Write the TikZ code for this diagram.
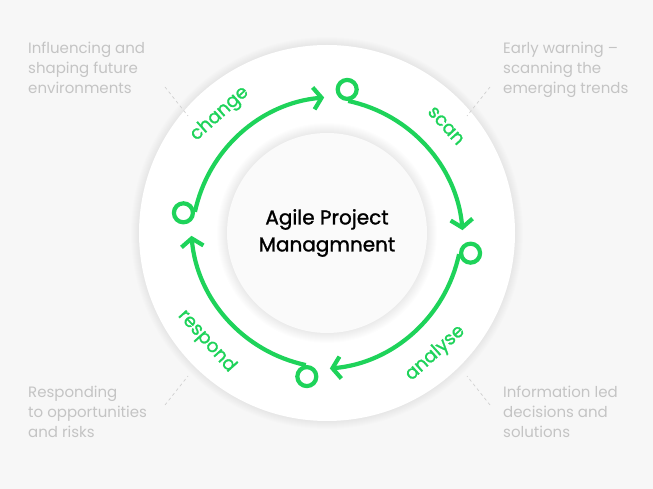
\documentclass[tikz,border=0pt]{standalone}
\usepackage{fontspec}
\setmainfont{Poppins}
\newfontfamily\med{Poppins}[FakeBold=1.3]
\usetikzlibrary{arrows.meta,calc}
\definecolor{grn}{HTML}{1ED35A}
\definecolor{bg}{HTML}{F7F7F7}
\definecolor{side}{HTML}{C4C4C4}
\tikzset{
  x=1pt,y=1pt,
  arr/.style={draw=grn,line width=4.2pt,-{Straight Barb[length=8pt,width=22pt,line width=4.2pt]}},
  dot/.style={circle,draw=grn,line width=4.2pt,fill=white,minimum size=19pt,inner sep=0pt},
  lab/.style={text=grn,font=\med\fontsize{18.5}{18.5}\selectfont},
  sidetxt/.style={text=side,font=\fontsize{15}{20}\selectfont,align=left,anchor=north west,inner sep=0pt},
  tick/.style={draw=side!80,dashed,dash pattern=on 3pt off 3pt,line width=0.7pt}
}
\begin{document}
\begin{tikzpicture}
\fill[bg] (0,0) rectangle (653,489);
\useasboundingbox (0,0) rectangle (653,489);
\coordinate (c) at (327,256);
% outer ring with soft shadow
\foreach \i in {1,...,8}{\fill[black,opacity=0.006] (c) circle[radius=188+\i];}
\fill[white] (c) circle[radius=188];
% inner shaded disc
\foreach \i in {1,...,10}{\fill[black,opacity=0.008] (c) circle[radius=111-\i];}
\fill[black!2] (c) circle[radius=100];
% nodes
\node[dot] (n1) at ($(c)+(82:145)$) {};
\node[dot] (n2) at ($(c)+(-8:145)$) {};
\node[dot] (n3) at ($(c)+(262:145)$) {};
\node[dot] (n4) at ($(c)+(172:145)$) {};
% arcs
\draw[arr] (n1.-85) arc[start angle=78,end angle=5,radius=145];
\draw[arr] (n2.-175) arc[start angle=-12,end angle=-85,radius=145];
\draw[arr] (n3.95) arc[start angle=258,end angle=185,radius=145];
\draw[arr] (n4.5) arc[start angle=168,end angle=95,radius=145];
% labels
\node[lab,rotate=-48] (l1) at ($(c)+(42:160)$) {scan};
\node[lab,rotate=42] (l2) at ($(c)+(-48:162)$) {analyse};
\node[lab,rotate=-48] (l3) at ($(c)+(222:162)$) {respond};
\node[lab,rotate=42] (l4) at ($(c)+(132:160)$) {change};
% center
\node[font=\med\fontsize{20}{27}\selectfont,align=center] (t) at (c) {Agile Project\\Managmnent};
% side texts
\node[sidetxt] (s1) at (28,447) {Influencing and\\shaping future\\environments};
\node[sidetxt] (s2) at (503,447) {Early warning –\\scanning the\\emerging trends};
\node[sidetxt] (s3) at (28,103) {Responding\\to opportunities\\and risks};
\node[sidetxt] (s4) at (503,103) {Information led\\decisions and\\solutions};
\coordinate (a1) at (165,402); \coordinate (b1) at (188,373);
\coordinate (a2) at (490,402); \coordinate (b2) at (467,373);
\coordinate (a3) at (165,84); \coordinate (b3) at (188,113);
\coordinate (a4) at (490,84); \coordinate (b4) at (467,113);
\draw[tick] (a1)--(b1); \draw[tick] (a2)--(b2);
\draw[tick] (a3)--(b3); \draw[tick] (a4)--(b4);
\end{tikzpicture}
\end{document}
